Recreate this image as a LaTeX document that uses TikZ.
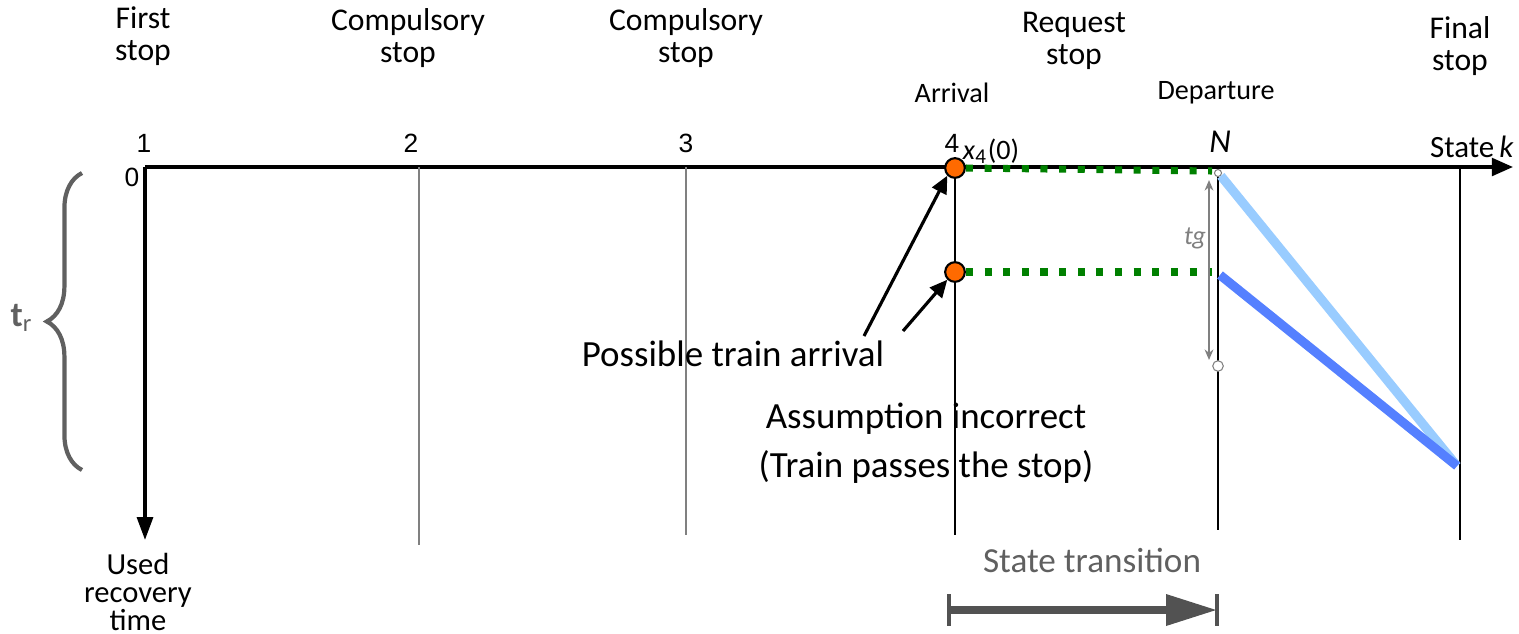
\documentclass[tikz,border=0pt]{standalone}
\usepackage{fontspec}
\setmainfont{Carlito}
\newfontfamily\numfont{Liberation Sans}
\usetikzlibrary{arrows.meta,decorations.pathreplacing}
\definecolor{dotorange}{HTML}{FF6A00}
\definecolor{dashgreen}{HTML}{008000}
\definecolor{lightblue}{HTML}{99CCFF}
\definecolor{darkblue}{HTML}{5580FF}
\definecolor{textgray}{HTML}{606060}
\tikzset{
  axis/.style={line width=1pt},
  stopline/.style={gray, line width=0.6pt},
  blackline/.style={line width=0.7pt},
  toplbl/.style={font=\fontsize{9}{9}\selectfont, align=center, inner sep=0pt},
  sublbl/.style={font=\fontsize{8}{9}\selectfont, inner sep=0pt},
  num/.style={font=\numfont\fontsize{7.5}{9}\selectfont, inner sep=0pt},
  callout/.style={font=\fontsize{10.5}{14}\selectfont, align=center, inner sep=0pt},
  arrivaldot/.style={circle, draw, fill=dotorange, line width=0.6pt, minimum size=5.6pt, inner sep=0pt},
  hollowdot/.style={circle, draw=gray, fill=white, line width=0.3pt, minimum size=#1, inner sep=0pt},
  greendash/.style={dashgreen, line width=2pt, dash pattern=on 2pt off 3.3pt},
  callarrow/.style={line width=0.9pt, -{Triangle[length=5pt,width=4.5pt]}},
  endbar/.style={textgray!85!black, line width=0.9pt}
}
\begin{document}
\begin{tikzpicture}[x=0.01cm,y=-0.01cm]
\useasboundingbox (0,0) rectangle (1519,633);

\coordinate (o) at (145,167);
\coordinate (kend) at (1513,167);
\coordinate (tend) at (145,540);
\draw[axis, -{Triangle[length=6pt,width=5pt]}] (o) -- (kend);
\draw[axis, -{Triangle[length=6.5pt,width=4.5pt]}] (o) -- (tend);

\draw[stopline] (419,167) -- (419,545);
\draw[stopline] (686,167) -- (686,535);
\draw[blackline] (955,167) -- (955,535);
\draw[blackline] (1218,167) -- (1218,530);
\draw[blackline] (1460,167) -- (1460,540);

\node[toplbl] (first) at (143,36) {First\\stop};
\node[toplbl] (comp2) at (408,38) {Compulsory\\stop};
\node[toplbl] (comp3) at (686,38) {Compulsory\\stop};
\node[toplbl] (req) at (1074,41) {Request\\stop};
\node[toplbl] (final) at (1460,46) {Final\\stop};
\node[sublbl] (arr) at (952,93) {Arrival};
\node[sublbl] (dep) at (1216,93) {Departure};

\node[num] (n1) at (144,143) {1};
\node[num] (n2) at (411,143) {2};
\node[num] (n3) at (686,143) {3};
\node[num] (n4) at (952,143) {4};
\node[num] (zero) at (132,177) {0};
\node[font=\fontsize{9.5}{10}\selectfont\itshape, inner sep=0pt] (nN) at (1220,142) {N};
\node[font=\fontsize{8}{9}\selectfont, inner sep=0pt] (xfour) at (991,151) {\textit{x}\textsubscript{4}(0)};
\node[font=\fontsize{8.8}{9}\selectfont, inner sep=0pt] (statek) at (1472,147) {State\,\textit{k}};

\node[arrivaldot] (a1) at (955,168) {};
\node[arrivaldot] (a2) at (955,272) {};
\node[hollowdot=2pt] (w1) at (1218,173) {};
\node[hollowdot=3pt] (w2) at (1218,366) {};
\coordinate (g1) at (1212,171);
\coordinate (g2) at (1212,272);
\draw[greendash] (a1.east) -- (g1);
\draw[greendash] (a2.east) -- (g2);

\coordinate (tgtop) at (1209,180);
\coordinate (tgbot) at (1209,360);
\draw[gray, line width=0.5pt, {Stealth[length=3pt,width=2.5pt]}-{Stealth[length=3pt,width=2.5pt]}] (tgbot) -- (tgtop);
\node[font=\fontsize{7.5}{8}\selectfont\itshape, text=gray, inner sep=0pt] (tg) at (1195,238) {tg};

\coordinate (fin) at (1457,466);
\draw[lightblue, line width=2.6pt] (w1.south east) -- (fin);
\draw[darkblue, line width=2.6pt] (1220,275) -- (fin);

\node[callout] (pta) at (733,354) {Possible train arrival};
\coordinate (c1) at (864,336);
\coordinate (c2) at (903,331);
\draw[callarrow] (c1) -- (a1.south west);
\draw[callarrow] (c2) -- (a2.south west);
\node[callout] (ai) at (926,443) {Assumption incorrect\\(Train passes the stop)};

\draw[textgray, line width=1.2pt, decorate, decoration={brace, amplitude=10pt}] (82,470) -- (82,173);
\node[text=textgray, font=\fontsize{10}{10}\selectfont, inner sep=0pt] (tr) at (22,318) {\textbf{t}\textsubscript{r}};

\node[font=\fontsize{8.7}{8}\selectfont, align=center, inner sep=0pt] (urt) at (138,592) {Used\\recovery\\time};

\node[text=textgray, font=\fontsize{10}{10}\selectfont, inner sep=0pt] (st) at (1092,560) {State transition};
\coordinate (st0) at (949,610);
\coordinate (st1) at (1217,610);
\draw[textgray!85!black, line width=2pt, -{Triangle[length=14.5pt,width=8.5pt]}] (st0) -- (st1);
\draw[endbar] (st0) +(0,-16) -- +(0,16);
\draw[endbar] (st1) +(0,-16) -- +(0,16);
\end{tikzpicture}
\end{document}
